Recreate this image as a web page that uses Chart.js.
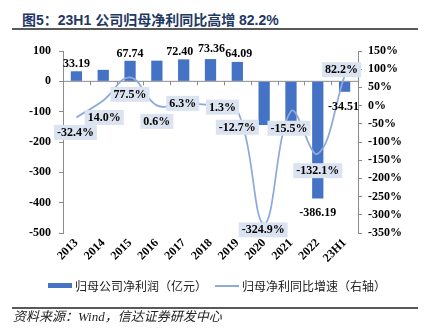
<!DOCTYPE html>
<html>
<head>
<meta charset="utf-8">
<script src="https://cdn.jsdelivr.net/npm/chart.js@4.4.1/dist/chart.umd.min.js"></script>
<style>
  body { margin: 0; width: 424px; height: 334px; background: #fff; position: relative; overflow: hidden; }
  .abs { position: absolute; white-space: nowrap; }
  #title { left: 22px; top: 12px; font: bold 14px 'Liberation Sans', 'Noto Sans CJK SC', sans-serif; line-height: 16px; color: #1f3864; }
  .rule { position: absolute; left: 12px; width: 406px; height: 1.5px; background: #595959; }
  #chartBox { position: absolute; left: 0; top: 33px; width: 424px; height: 245px; }
  .legendText { top: 279px; font: 12px 'Noto Sans CJK SC', sans-serif; line-height: 14px; color: #222; }
  #source { left: 13px; top: 310px; font: italic 13px 'Liberation Serif', 'Noto Sans CJK SC', serif; line-height: 14px; color: #222; }
</style>
</head>
<body>
<div id="title" class="abs">图5：23H1 公司归母净利同比高增 82.2%</div>
<div class="rule" style="top:28px"></div>
<div id="chartBox"><canvas id="profitChart" width="424" height="245"></canvas></div>

<div class="abs" style="left:48px; top:283px; width:24px; height:5px; background:#4472c4"></div>
<div class="abs legendText" style="left:75px">归母公司净利润（亿元）</div>
<div class="abs" style="left:215px; top:285px; width:24px; height:1.5px; background:#8eaadb"></div>
<div class="abs legendText" style="left:242px">归母净利同比增速（右轴）</div>

<div class="rule" style="top:307px"></div>
<div id="source" class="abs">资料来源：Wind，信达证券研发中心</div>

<script>
// categories and series
const years = ['2013', '2014', '2015', '2016', '2017', '2018', '2019', '2020', '2021', '2022', '23H1'];
const netProfit = [33.19, 37.84, 67.74, 68.15, 72.40, 73.36, 64.09, -144.1, -166.4, -386.19, -34.51];
const growthPct = [-32.4, 14.0, 77.5, 0.6, 6.3, 1.3, -12.7, -324.9, -15.5, -132.1, 82.2];
const profitLabeled = [true, false, true, false, true, true, true, false, false, true, true];

// axis ticks
const leftTicks = [-500, -400, -300, -200, -100, 0, 100];
const rightTicks = [-350, -300, -250, -200, -150, -100, -50, 0, 50, 100, 150];

// label placement, [dx, dy] from the bar end / line point
const barLabelShift = [[0, -7.5], null, [0, -7], null, [-4, -7], [1, -10], [1.5, -7.5], null, null, [0, 14], [-1, 15]];
const lineLabelShift = [[-1, 15], [1, 17], [0, 17], [0, 16], [-1, 0], [12, 2], [0, 17], [-1, 6], [-2, 17], [0, 17], [-3, -6]];

const serifBold = "bold 12px 'Liberation Serif', 'Times New Roman', serif";
const axisGrey = '#8c8c8c';

const valueLabels = {
    id: 'valueLabels',
    beforeDatasetsDraw(chart) {
        // category axis sits on the zero line of the left scale
        const ctx = chart.ctx;
        const area = chart.chartArea;
        const y0 = chart.scales.y.getPixelForValue(0);
        const step = (area.right - area.left) / years.length;
        ctx.save();
        ctx.strokeStyle = axisGrey;
        ctx.lineWidth = 1;
        ctx.beginPath();
        ctx.moveTo(area.left, y0);
        ctx.lineTo(area.right, y0);
        for (let i = 0; i <= years.length; i++) {
            const x = Math.round(area.left + i * step) + 0.5;
            ctx.moveTo(x, y0);
            ctx.lineTo(x, y0 + 4);
        }
        ctx.stroke();
        ctx.restore();
    },
    afterDatasetsDraw(chart) {
        const ctx = chart.ctx;
        ctx.save();
        ctx.font = serifBold;
        ctx.textAlign = 'center';
        ctx.textBaseline = 'middle';

        // bar values
        const bars = chart.getDatasetMeta(1).data;
        bars.forEach((el, i) => {
            if (!profitLabeled[i]) return;
            const s = barLabelShift[i];
            ctx.fillStyle = '#000';
            ctx.fillText(netProfit[i].toFixed(2), el.x + s[0], el.y + s[1]);
        });

        // growth labels in shaded boxes
        const pts = chart.getDatasetMeta(0).data;
        pts.forEach((el, i) => {
            const s = lineLabelShift[i];
            const txt = growthPct[i].toFixed(1) + '%';
            const w = ctx.measureText(txt).width + 6;
            const h = 15;
            const cx = el.x + s[0];
            const cy = el.y + s[1];
            ctx.fillStyle = '#dbe3f1';
            ctx.fillRect(cx - w / 2, cy - h / 2, w, h);
            ctx.fillStyle = '#000';
            ctx.fillText(txt, cx, cy + 0.5);
        });
        ctx.restore();
    }
};

new Chart(document.getElementById('profitChart').getContext('2d'), {
    data: {
        labels: years,
        datasets: [{
            type: 'line',
            label: '归母净利同比增速（右轴）',
            data: growthPct,
            yAxisID: 'y1',
            borderColor: '#8eaadb',
            borderWidth: 1.75,
            pointRadius: 0,
            tension: 0.4,
            fill: false,
            order: 0
        }, {
            type: 'bar',
            label: '归母公司净利润（亿元）',
            data: netProfit,
            yAxisID: 'y',
            backgroundColor: '#4472c4',
            categoryPercentage: 1,
            barPercentage: 0.42,
            order: 1
        }]
    },
    options: {
        responsive: false,
        animation: false,
        devicePixelRatio: 1,
        layout: { padding: { top: 18, right: 0, bottom: 0, left: 0 } },
        plugins: {
            legend: { display: false },
            tooltip: { enabled: false }
        },
        scales: {
            x: {
                grid: { display: false, drawTicks: false, tickLength: 0 },
                border: { display: false },
                ticks: {
                    minRotation: 45,
                    maxRotation: 45,
                    padding: 3,
                    color: '#000',
                    font: { family: "'Liberation Serif', 'Times New Roman', serif", size: 12, weight: 'bold' }
                },
                afterFit: s => { s.height = 45; }
            },
            y: {
                position: 'left',
                min: -500,
                max: 100,
                afterBuildTicks: s => { s.ticks = leftTicks.map(v => ({ value: v })); },
                grid: { drawOnChartArea: false, tickLength: 4, color: axisGrey },
                border: { color: axisGrey },
                ticks: {
                    padding: 8,
                    color: '#000',
                    font: { family: "'Liberation Serif', 'Times New Roman', serif", size: 12, weight: 'bold' }
                },
                afterFit: s => { s.width = 63; }
            },
            y1: {
                position: 'right',
                min: -350,
                max: 150,
                afterBuildTicks: s => { s.ticks = rightTicks.map(v => ({ value: v })); },
                grid: { drawOnChartArea: false, tickLength: 4, color: axisGrey },
                border: { color: axisGrey },
                ticks: {
                    padding: 6,
                    color: '#000',
                    callback: v => v + '%',
                    font: { family: "'Liberation Serif', 'Times New Roman', serif", size: 12, weight: 'bold' }
                },
                afterFit: s => { s.width = 66; }
            }
        }
    },
    plugins: [valueLabels]
});
</script>
</body>
</html>
